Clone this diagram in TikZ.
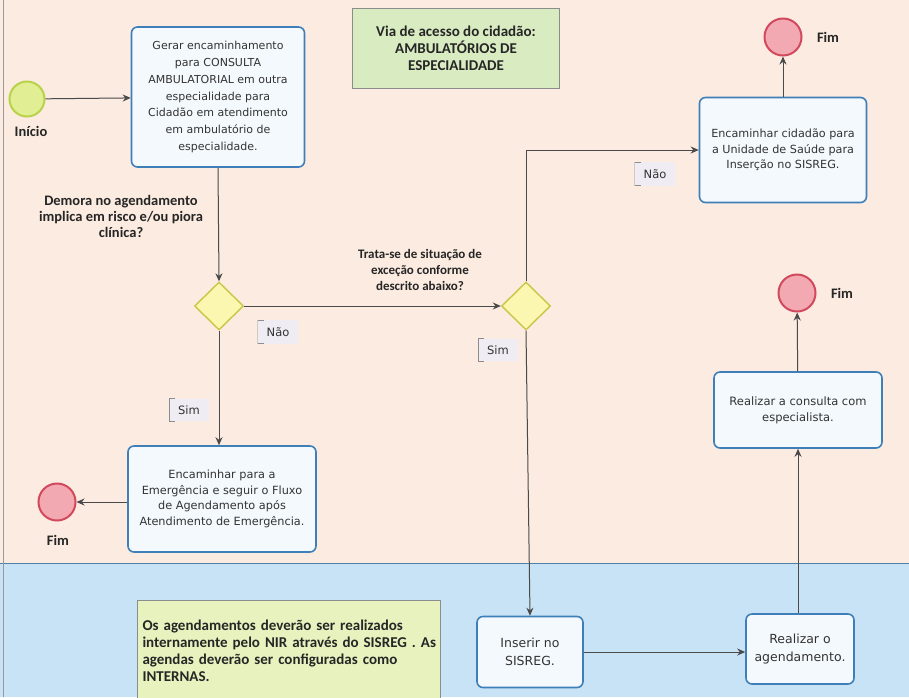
\documentclass[tikz,border=0pt]{standalone}
\usepackage{fontspec}
\setmainfont{DejaVu Sans}
\newfontfamily\lblfont{Carlito}
\usetikzlibrary{arrows.meta,shapes.geometric}

\definecolor{lanetop}{HTML}{FBEBE0}
\definecolor{lanebot}{HTML}{C8E3F6}
\definecolor{taskline}{HTML}{3F7FB9}
\definecolor{taskfill}{HTML}{F3F9FD}
\definecolor{gwfill}{HTML}{FBF7B0}
\definecolor{gwline}{HTML}{C9C646}
\definecolor{endfill}{HTML}{F3A9B2}
\definecolor{endline}{HTML}{D2495E}
\definecolor{startfill}{HTML}{E2EE93}
\definecolor{startline}{HTML}{B8D24C}
\definecolor{titlefill}{HTML}{D9EBC1}
\definecolor{notefill}{HTML}{E8F2BE}
\definecolor{flowgray}{HTML}{4A4A4A}
\definecolor{lblfill}{HTML}{EFEDF3}

\begin{document}
\begin{tikzpicture}[x=1pt, y=-1pt,
  every node/.style={font=\fontsize{11}{16.5}\selectfont, text=black!80},
  >={Stealth[length=8pt,width=7pt]},
  task/.style={draw=taskline, line width=1.6pt, rounded corners=6pt, fill=taskfill, align=center, inner sep=2pt},
  gateway/.style={diamond, draw=gwline, line width=1.4pt, fill=gwfill, minimum width=49pt, minimum height=48pt, inner sep=0pt},
  endev/.style={circle, draw=endline, line width=2pt, fill=endfill, minimum size=37pt, inner sep=0pt},
  startev/.style={circle, draw=startline, line width=2pt, fill=startfill, minimum size=35pt, inner sep=0pt},
  evlabel/.style={font=\lblfont\bfseries\fontsize{14.5}{16}\selectfont, text=black!85},
  question/.style={font=\lblfont\bfseries\fontsize{13}{16}\selectfont, align=center, text=black!85},
  flowlbl/.style={fill=lblfill, inner xsep=9pt, inner ysep=7pt, font=\fontsize{11.5}{13}\selectfont,
    path picture={\draw[black!45, line width=1pt] ([xshift=6pt]path picture bounding box.north west) -| (path picture bounding box.south west) -- ++(6pt,0);}},
  flow/.style={draw=flowgray, line width=1pt, ->}]

\useasboundingbox (0,0) rectangle (909,697);
% lanes
\fill[lanetop] (0,0) rectangle (909,563);
\fill[lanebot] (0,563) rectangle (909,697);
\draw[taskline!70!gray, line width=1pt] (0,563) -- (909,563);
\draw[black!40, line width=1pt] (3,0) -- (3,697);

% titulo e nota
\node[draw=black!45, line width=1pt, fill=titlefill, minimum width=207pt, minimum height=80pt, align=center,
  font=\lblfont\bfseries\fontsize{15}{17}\selectfont, text=black!85] (titulo) at (456,48)
  {Via de acesso do cidadão:\\AMBULATÓRIOS DE\\ESPECIALIDADE};
\node[draw=black!45, line width=1pt, fill=notefill, anchor=north west, minimum width=303pt, minimum height=100pt,
  text width=293pt, inner xsep=5pt, align=left, font=\lblfont\bfseries\fontsize{15}{17}\selectfont, text=black!85] (nota) at (137,600)
  {Os agendamentos deverão ser realizados\\\mbox{internamente pelo NIR através do SISREG . As}\\agendas deverão ser configuradas como\\INTERNAS.};

% eventos e tarefas
\node[startev] (inicio) at (27,99) {};
\node[evlabel] (inicioLbl) at (31,131) {Início};
\node[task, minimum width=173pt, minimum height=140pt, font=\fontsize{11}{16.8}\selectfont] (gerar) at (218,97)
  {Gerar encaminhamento\\para CONSULTA\\AMBULATORIAL em outra\\especialidade para\\Cidadão em atendimento\\em ambulatório de\\especialidade.};
\node[question, font=\lblfont\bfseries\fontsize{14.5}{16}\selectfont] (q1) at (121,216) {Demora no agendamento\\implica em risco e/ou piora\\clínica?};
\node[gateway] (gw1) at (219,306) {};
\node[task, minimum width=188pt, minimum height=106pt, font=\fontsize{11.3}{15.5}\selectfont] (emerg) at (222,499)
  {Encaminhar para a\\Emergência e seguir o Fluxo\\de Agendamento após\\Atendimento de Emergência.};
\node[endev] (fimA) at (57,502) {};
\node[evlabel] (fimALbl) at (58,540) {Fim};

\node[question] (q2) at (420,270) {Trata-se de situação de\\exceção conforme\\descrito abaixo?};
\node[gateway] (gw2) at (526,306) {};
\node[task, minimum width=167pt, minimum height=105pt, font=\fontsize{11.2}{15.5}\selectfont] (encam) at (783,150)
  {Encaminhar cidadão para\\a Unidade de Saúde para\\Inserção no SISREG.};
\node[endev] (fimB) at (783,37) {};
\node[evlabel] (fimBLbl) at (828,37) {Fim};

\node[task, minimum width=106pt, minimum height=71pt, font=\fontsize{12.5}{18}\selectfont] (inserir) at (530,652) {Inserir no\\SISREG.};
\node[task, minimum width=108pt, minimum height=70pt, font=\fontsize{12.5}{18}\selectfont] (agendar) at (800,649) {Realizar o\\agendamento.};
\node[task, minimum width=168pt, minimum height=76pt, font=\fontsize{11.5}{16}\selectfont] (consulta) at (798,410)
  {Realizar a consulta com\\especialista.};
\node[endev] (fimC) at (797,293) {};
\node[evlabel] (fimCLbl) at (842,293) {Fim};

% rotulos dos fluxos
\node[flowlbl] (naoA) at (278,332) {Não};
\node[flowlbl] (simA) at (189,410) {Sim};
\node[flowlbl] (naoB) at (655,174) {Não};
\node[flowlbl] (simB) at (498,350) {Sim};

% fluxos
\draw[flow] (inicio) -- (gerar);
\draw[flow] (gerar.south) -- (gw1.north);
\draw[flow] (gw1.east) -- (gw2.west);
\draw[flow] (gw1.south) -- (gw1.south |- emerg.north);
\draw[flow] (emerg.west |- fimA) -- (fimA);
\draw[flow] (gw2.north) |- (encam.west);
\draw[flow] (encam) -- (fimB);
\draw[flow] (gw2.south) -- (inserir.north);
\draw[flow] (inserir.east) -- (inserir.east -| agendar.west);
\draw[flow] (agendar.north -| consulta.south) -- (consulta.south);
\draw[flow] (consulta) -- (fimC);
\end{tikzpicture}
\end{document}
